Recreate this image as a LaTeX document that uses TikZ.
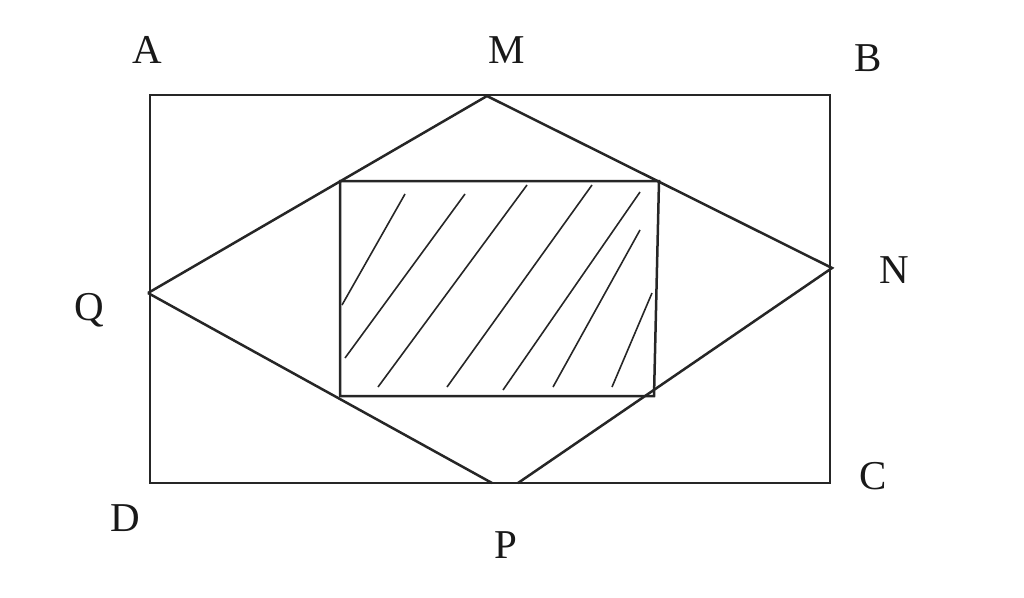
\documentclass[tikz,border=0pt]{standalone}
\usepackage{fontspec}
\setmainfont{Liberation Serif}
\begin{document}
\begin{tikzpicture}[x=1pt,y=-1pt,
  edge/.style={line width=2.5pt,draw=black!85},
  hatch/.style={line width=1.6pt,draw=black!85},
  lbl/.style={font=\fontsize{41}{46}\selectfont,text=black!90,inner sep=0pt}]
\useasboundingbox (0,0) rectangle (1024,597);
\coordinate (A) at (150,95);
\coordinate (B) at (830,95);
\coordinate (C) at (830,483);
\coordinate (D) at (150,483);
\coordinate (M) at (487,96);
\coordinate (N) at (832,268);
\coordinate (Q) at (148,293);
\coordinate (P1) at (492,483);
\coordinate (P2) at (518,483);
\coordinate (I1) at (340,181);
\coordinate (I2) at (659,181);
\coordinate (I3) at (654,396);
\coordinate (I4) at (340,396);
\draw[edge] (A) -- (B) -- (C) -- (D) -- cycle;
\draw[edge] (Q) -- (M) -- (N) -- (P2);
\draw[edge] (Q) -- (P1);
\draw[edge] (I1) -- (I2) -- (I3) -- (I4) -- cycle;
\draw[hatch] (405,194) -- (342,305);
\draw[hatch] (465,194) -- (345,358);
\draw[hatch] (527,185) -- (378,387);
\draw[hatch] (592,185) -- (447,387);
\draw[hatch] (640,192) -- (503,390);
\draw[hatch] (640,230) -- (553,387);
\draw[hatch] (652,293) -- (612,387);
\node[lbl] (lA) at (147,50) {A};
\node[lbl] (lM) at (507,50) {M};
\node[lbl] (lB) at (868,58) {B};
\node[lbl] (lN) at (894,270) {N};
\node[lbl] (lQ) at (89,310) {Q};
\node[lbl] (lC) at (873,476) {C};
\node[lbl] (lD) at (125,518) {D};
\node[lbl] (lP) at (506,545) {P};
\end{tikzpicture}
\end{document}
